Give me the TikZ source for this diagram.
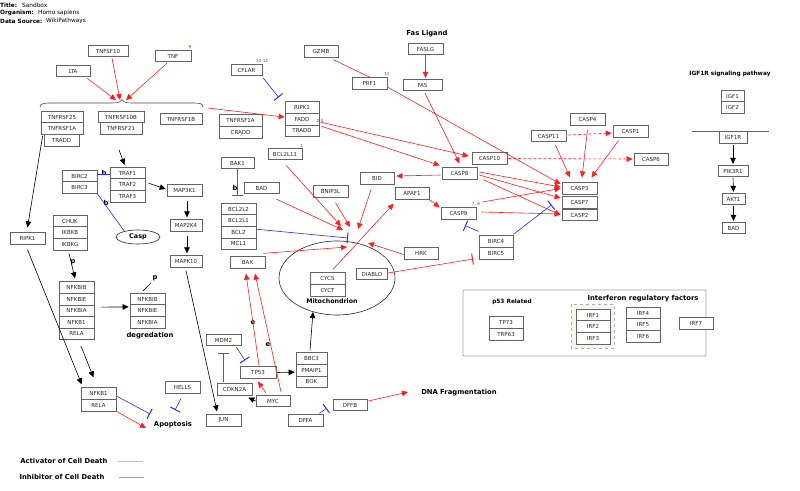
\documentclass[tikz,border=0pt]{standalone}
\usepackage{fontspec}
\setmainfont{DejaVu Sans}
\usetikzlibrary{arrows.meta,shapes.geometric,calc}
\definecolor{myred}{RGB}{255,30,30}
\definecolor{myblue}{RGB}{40,40,255}
\definecolor{numblue}{RGB}{70,70,200}
\definecolor{legred}{RGB}{255,165,165}
\definecolor{legblue}{RGB}{110,170,255}
\definecolor{boxgray}{RGB}{100,100,100}
\newcommand\gfont{\fontsize{5.5}{6}\selectfont}
\newcommand\lfont{\fontsize{6.8}{8}\selectfont\bfseries}
\newcommand\sfont{\fontsize{5.8}{7}\selectfont\bfseries}
\newcommand\hfont{\fontsize{5.8}{7}\selectfont}
\begin{document}
\begin{tikzpicture}[x=1pt,y=-1pt,
 gene/.style={draw=boxgray, line width=0.7pt, fill=white, inner sep=0pt, minimum height=11.6pt, text=black!85, font=\gfont},
 lbl/.style={font=\lfont, inner sep=0pt},
 slbl/.style={font=\sfont, inner sep=0pt},
 hdr/.style={font=\hfont, inner sep=0pt, anchor=west},
 hdrb/.style={font=\hfont\bfseries, inner sep=0pt, anchor=west},
 num/.style={font=\fontsize{4.2}{5}\selectfont, text=numblue, inner sep=0pt},
 act/.style={color=myred, line width=0.6pt, -{Triangle[length=6pt,width=5.5pt]}},
 actd/.style={act, dash pattern=on 3pt off 2pt},
 inh/.style={color=myred, line width=0.6pt, -{Bar[width=11pt,line width=1pt]}},
 binh/.style={color=myblue, line width=0.6pt, -{Bar[width=11pt,line width=1pt]}},
 bline/.style={color=myblue, line width=0.6pt},
 rline/.style={color=myred, line width=0.6pt},
 kact/.style={color=black, line width=0.6pt, -{Triangle[length=6pt,width=5.5pt]}},
 kline/.style={color=black, line width=0.6pt}]
\useasboundingbox (0,0) rectangle (800,490);
\fill[white] (0,0) rectangle (800,490);

% header
\node[hdrb] (h1) at (0,5) {Title:};
\node[hdr] (h1v) at (22,5) {Sandbox};
\node[hdrb] (h2) at (0,13) {Organism:};
\node[hdr] (h2v) at (38,13) {Homo sapiens};
\node[hdrb] (h3) at (0,21) {Data Source:};
\node[hdr] (h3v) at (46,21) {WikiPathways};

% groups
\draw[draw=black!35, line width=0.8pt, rounded corners=1pt] (463,290) rectangle (706,356);
\draw[draw=black!30, dashed, line width=0.5pt, fill={rgb,255:red,245;green,245;blue,236}] (571,304) rectangle (614,348);
\node[ellipse, draw=black!85, line width=0.6pt, minimum width=116pt, minimum height=74pt, inner sep=0pt] (mito) at (337,278) {};
\node[ellipse, draw=black!85, line width=0.6pt, minimum width=44pt, minimum height=14pt, inner sep=0pt, font=\fontsize{6.5}{7}\selectfont\bfseries] (Casp) at (138,237) {Casp};

% brace
\draw[black!70, line width=0.6pt] (40,107) .. controls (40,103.5) and (44,103) .. (52,103) -- (112,103) .. controls (118,103) and (121,102) .. (122,99.5) .. controls (123,102) and (126,103) .. (132,103) -- (192,103) .. controls (200,103) and (203,103.5) .. (203,107);
\draw[black!60, line width=0.6pt] (692,131) -- (769,131);

% genes
\node[gene, minimum width=40pt] (TNFSF10) at (108,51) {TNFSF10};
\node[gene, minimum width=36pt] (TNF) at (173,56) {TNF};
\node[gene, minimum width=34pt] (LTA) at (73,71) {LTA};
\node[gene, minimum width=42pt] (TNFRSF25) at (62,117) {TNFRSF25};
\node[gene, minimum width=42pt] (TNFRSF1A) at (62,128.6) {TNFRSF1A};
\node[gene, minimum width=35pt] (TRADDa) at (61.5,140.2) {TRADD};
\node[gene, minimum width=46pt] (TNFRSF10B) at (121,117) {TNFRSF10B};
\node[gene, minimum width=42pt] (TNFRSF21) at (121,128.6) {TNFRSF21};
\node[gene, minimum width=42pt] (TNFRSF1B) at (181,119) {TNFRSF1B};
\node[gene, minimum width=35pt] (BIRC2) at (79.5,176) {BIRC2};
\node[gene, minimum width=35pt] (BIRC3) at (79.5,187.6) {BIRC3};
\node[gene, minimum width=35pt] (TRAF1) at (127.5,173) {TRAF1};
\node[gene, minimum width=35pt] (TRAF2) at (127.5,184.6) {TRAF2};
\node[gene, minimum width=35pt] (TRAF3) at (127.5,196.2) {TRAF3};
\node[gene, minimum width=35pt] (MAP3K1) at (184.5,190.5) {MAP3K1};
\node[gene, minimum width=32pt] (MAP2K4) at (186,225.5) {MAP2K4};
\node[gene, minimum width=32pt] (MAPK10) at (186,261.5) {MAPK10};
\node[gene, minimum width=35pt] (RIPK1a) at (27.5,238.5) {RIPK1};
\node[gene, minimum width=34pt] (CHUK) at (70,221) {CHUK};
\node[gene, minimum width=34pt] (IKBKB) at (70,232.6) {IKBKB};
\node[gene, minimum width=34pt] (IKBKG) at (70,244.2) {IKBKG};
\node[gene, minimum width=35pt] (NFKBIBa) at (76.5,287.5) {NFKBIB};
\node[gene, minimum width=35pt] (NFKBIEa) at (76.5,299.1) {NFKBIE};
\node[gene, minimum width=35pt] (NFKBIAa) at (76.5,310.7) {NFKBIA};
\node[gene, minimum width=35pt] (NFKB1a) at (76.5,322.3) {NFKB1};
\node[gene, minimum width=35pt] (RELAa) at (76.5,333.9) {RELA};
\node[gene, minimum width=35pt] (NFKBIBb) at (147.5,299) {NFKBIB};
\node[gene, minimum width=35pt] (NFKBIEb) at (147.5,310.6) {NFKBIE};
\node[gene, minimum width=35pt] (NFKBIAb) at (147.5,322.2) {NFKBIA};
\node[gene, minimum width=35pt] (NFKB1b) at (98.5,393.5) {NFKB1};
\node[gene, minimum width=35pt] (RELAb) at (98.5,405.1) {RELA};
\node[gene, minimum width=35pt] (HELLS) at (182.5,387.5) {HELLS};
\node[gene, minimum width=35pt] (MDM2) at (223.5,340) {MDM2};
\node[gene, minimum width=36pt] (TP53) at (258,372.5) {TP53};
\node[gene, minimum width=35pt] (CDKN2A) at (234.5,389.5) {CDKN2A};
\node[gene, minimum width=34pt] (MYC) at (273,401) {MYC};
\node[gene, minimum width=31pt] (BBC3) at (311.5,358.5) {BBC3};
\node[gene, minimum width=31pt] (PMAIP1) at (311.5,370.1) {PMAIP1};
\node[gene, minimum width=31pt] (BOK) at (311.5,381.7) {BOK};
\node[gene, minimum width=35pt] (JUN) at (223.5,420.5) {JUN};
\node[gene, minimum width=35pt] (DFFA) at (305.5,420.5) {DFFA};
\node[gene, minimum width=34pt] (DFFB) at (350,405) {DFFB};
\node[gene, minimum width=33pt] (BAK1) at (237.5,163) {BAK1};
\node[gene, minimum width=35pt] (BAD) at (261.5,188) {BAD};
\node[gene, minimum width=35pt] (BCL2L2) at (238.5,209) {BCL2L2};
\node[gene, minimum width=35pt] (BCL2L1) at (238.5,220.6) {BCL2L1};
\node[gene, minimum width=35pt] (BCL2) at (238.5,232.2) {BCL2};
\node[gene, minimum width=35pt] (MCL1) at (238.5,243.8) {MCL1};
\node[gene, minimum width=35pt] (BAX) at (247.5,262.5) {BAX};
\node[gene, minimum width=35pt] (CYCS) at (327.5,278.5) {CYCS};
\node[gene, minimum width=35pt] (CYCT) at (327.5,290.1) {CYCT};
\node[gene, minimum width=31pt] (DIABLO) at (372,274) {DIABLO};
\node[gene, minimum width=35pt] (BNIP3L) at (330.5,191.5) {BNIP3L};
\node[gene, minimum width=34pt] (BID) at (377,178.5) {BID};
\node[gene, minimum width=34pt] (APAF1) at (412,193.5) {APAF1};
\node[gene, minimum width=34pt] (HRK) at (421,253.5) {HRK};
\node[gene, minimum width=35pt] (CASP8) at (459.5,173.5) {CASP8};
\node[gene, minimum width=35pt] (CASP9) at (458.5,213.5) {CASP9};
\node[gene, minimum width=34pt] (BIRC4) at (496,241.5) {BIRC4};
\node[gene, minimum width=34pt] (BIRC5) at (496,253.1) {BIRC5};
\node[gene, minimum width=35pt] (CASP3) at (579.5,188.5) {CASP3};
\node[gene, minimum width=35pt] (CASP7) at (579.5,202.5) {CASP7};
\node[gene, minimum width=35pt] (CASP2) at (579.5,215) {CASP2};
\node[gene, minimum width=35pt] (CASP10) at (489.5,158.5) {CASP10};
\node[gene, minimum width=35pt] (CASP11) at (548.5,136) {CASP11};
\node[gene, minimum width=35pt] (CASP4) at (587.5,119.5) {CASP4};
\node[gene, minimum width=35pt] (CASP1) at (630.5,131.5) {CASP1};
\node[gene, minimum width=34pt] (CASP6) at (651,159.5) {CASP6};
\node[gene, minimum width=39pt] (FAS) at (422.5,85) {FAS};
\node[gene, minimum width=35pt] (FASLG) at (425.5,49) {FASLG};
\node[gene, minimum width=34pt] (RIPK1b) at (302,107.5) {RIPK1};
\node[gene, minimum width=34pt] (FADD) at (302,119.1) {FADD};
\node[gene, minimum width=34pt] (TRADDb) at (302,130.7) {TRADD};
\node[gene, minimum width=31pt] (CFLAR) at (246.5,70) {CFLAR};
\node[gene, minimum width=43pt] (TNFRSF1Ab) at (240.5,120.5) {TNFRSF1A};
\node[gene, minimum width=43pt] (CRADD) at (240.5,132.1) {CRADD};
\node[gene, minimum width=34pt] (GZMB) at (321,51.5) {GZMB};
\node[gene, minimum width=35pt] (PRF1) at (369.5,83.5) {PRF1};
\node[gene, minimum width=34pt] (BCL2L11) at (285,154) {BCL2L11};
\node[gene, minimum width=23pt] (IGF1) at (732.5,96) {IGF1};
\node[gene, minimum width=23pt] (IGF2) at (732.5,107.6) {IGF2};
\node[gene, minimum width=28pt] (IGF1R) at (733,137.5) {IGF1R};
\node[gene, minimum width=30pt] (PIK3R1) at (733,171) {PIK3R1};
\node[gene, minimum width=23pt] (AKT1) at (733.5,199) {AKT1};
\node[gene, minimum width=23pt] (BADr) at (733.5,228) {BAD};
\node[gene, minimum width=34pt] (TP73) at (506,322.5) {TP73};
\node[gene, minimum width=34pt] (TRP63) at (506,334.1) {TRP63};
\node[gene, minimum width=34pt] (IRF1) at (593,315) {IRF1};
\node[gene, minimum width=34pt] (IRF2) at (593,326.6) {IRF2};
\node[gene, minimum width=34pt] (IRF3) at (593,338.2) {IRF3};
\node[gene, minimum width=34pt] (IRF4) at (643,313) {IRF4};
\node[gene, minimum width=34pt] (IRF5) at (643,324.6) {IRF5};
\node[gene, minimum width=34pt] (IRF6) at (643,336.2) {IRF6};
\node[gene, minimum width=34pt] (IRF7) at (696,323.5) {IRF7};

% labels
\node[lbl] (fasl) at (427,34) {Fas Ligand};
\node[slbl] (igfl) at (730,74) {IGF1R signaling pathway};
\node[lbl] (degr) at (150,336) {degredation};
\node[font=\fontsize{6.3}{7}\selectfont\bfseries, inner sep=0pt] (mitol) at (332,301) {Mitochondrion};
\node[lbl] (apo) at (173,425) {Apoptosis};
\node[lbl] (dna) at (459,393) {DNA Fragmentation};
\node[slbl] (p53l) at (512,302) {p53 Related};
\node[lbl] (irfl) at (643,299) {Interferon regulatory factors};
\node[lbl] (leg1) at (64,461) {Activator of Cell Death};
\node[lbl] (leg2) at (62,477) {Inhibitor of Cell Death};
\node[lbl] (b1) at (104,173) {b};
\node[lbl] (b2) at (106,203) {b};
\node[lbl] (b3) at (235,188) {b};
\node[lbl] (p1) at (73,262) {p};
\node[lbl] (p2) at (155,278) {p};
\node[lbl] (e1) at (253,323) {e};
\node[lbl] (e2) at (268,345) {e};
\node[num] (n9) at (190,47) {9};
\node[num] (n1012) at (262,61) {10-12};
\node[num] (n12) at (387,74) {12};
\node[num] (n1) at (302,146) {1};
\node[num] (n25) at (320,121) {2-5};
\node[num] (n78) at (476,204) {7, 8};

% free ends
\coordinate (brA) at (116,100);
\coordinate (brB) at (120,100);
\coordinate (brC) at (126,100);
\coordinate (brR) at (208,108);
\coordinate (mt1) at (341,226);
\coordinate (mt2) at (343,230);
\coordinate (mt3) at (350,227);
\coordinate (mt4) at (358,229);
\coordinate (mt5) at (368,243);
\coordinate (mt6) at (347,247);
\coordinate (mt7) at (348,238);
\coordinate (mtb) at (313,312);
\coordinate (apA) at (146,428);
\coordinate (apB) at (150,414);
\coordinate (apC) at (175,410);
\coordinate (dnaA) at (408,392);
\coordinate (bakbar) at (237.5,196);
\coordinate (cdkbar) at (223,353);
\coordinate (diabar) at (473,259);

% legend
\draw[legred, line width=0.9pt] ($(leg1.east)+(10,0)$) -- ++(25,0);
\draw[legblue, line width=0.9pt] ($(leg2.east)+(14,0)$) -- ++(25,0);

% red activations
\draw[act] ($(LTA.south)+(14,1)$) -- (brA);
\draw[act] ($(TNFSF10.south)+(4,1)$) -- (brB);
\draw[act] ($(TNF.south)+(-6,1)$) -- (brC);
\draw[act] (brR) -- ($(FADD.west)+(0,-2)$);
\draw[act] (FASLG.south) -- ($(FAS.north)+(3,-1)$);
\draw[act] ($(FAS.south)+(2.5,2)$) -- ($(CASP8.north)+(0,-4)$);
\draw[act] ($(FADD.east)+(1,3)$) -- ($(CASP10.west)+(-3,-2.5)$);
\draw[act] ($(TRADDb.east)+(2,-4.5)$) -- ($(CASP8.north west)+(-2,-2)$);
\draw[act] ($(PRF1.east)+(0,3.5)$) -- ($(CASP3.west)+(-1,-4.5)$);
\draw[act] ($(CASP8.west)+(-1,1.5)$) -- ($(BID.east)+(2,-2.5)$);
\draw[act] ($(CASP8.east)+(2,-1.5)$) -- ($(CASP3.west)+(-1,-1.5)$);
\draw[act] ($(CASP8.east)+(2,1.5)$) -- ($(CASP7.west)+(-1,-4.5)$);
\draw[act] ($(CASP8.south east)+(6,0)$) -- ($(CASP2.west)+(-1,0)$);
\draw[act] ($(CASP9.east)+(6,-11.5)$) -- ($(CASP3.west)+(-1,0)$);
\draw[act] ($(CASP9.east)+(5,-1.5)$) -- ($(CASP2.west)+(-1,-1)$);
\draw[act] (APAF1.south east) -- ($(CASP9.north west)+(-1,0)$);
\draw[act] ($(CASP11.south)+(7,3)$) -- ($(CASP3.north)+(-9.5,-5)$);
\draw[act] ($(CASP4.south)+(0,4)$) -- ($(CASP3.north)+(2.5,-5)$);
\draw[act] ($(CASP1.south)+(-12,3)$) -- ($(CASP3.north)+(12,-5)$);
\draw[act] ($(CYCS.north)+(5.5,-3)$) -- ($(APAF1.south west)+(-1,4)$);
\draw[act] ($(BCL2L11.south)+(1,5)$) -- (mt1);
\draw[act] ($(BAD.south east)+(-3,5)$) -- (mt2);
\draw[act] ($(BNIP3L.south)+(5,5)$) -- (mt3);
\draw[act] ($(BID.south)+(-6,5)$) -- (mt4);
\draw[act] ($(HRK.west)+(0,1)$) -- (mt5);
\draw[act] ($(BAX.north east)+(-2,-3)$) -- (mt6);
\draw[act] ($(TP53.north)+(1,-1)$) -- ($(BAX.south)+(-1.5,5)$);
\draw[act] ($(MYC.north)+(8,-3)$) -- ($(BAX.south)+(7.5,5)$);
\draw[act] ($(MYC.north)+(-7,-2)$) -- ($(TP53.south)+(0,3)$);
\draw[act] (RELAb.south east) -- (apA);
\draw[act] ($(DFFB.east)+(1,-4)$) -- (dnaA);
\draw[actd] ($(CASP10.east)+(1,0)$) -- ($(CASP6.west)+(-1,-0.5)$);
\draw[actd] ($(CASP11.east)+(2,-1)$) -- ($(CASP1.west)+(-1,1.5)$);
\draw[rline] ($(GZMB.south east)+(-5,2)$) -- ($(PRF1.north)+(0.5,0)$);

% red inhibitions
\draw[inh] (BAK1.south) -- (bakbar);
\draw[inh] ($(CDKN2A.north)+(-11.5,-1)$) -- (cdkbar);
\draw[inh] ($(DIABLO.east)+(0,-1)$) -- (diabar);

% blue inhibitions
\draw[binh] ($(CFLAR.south east)+(1,2)$) -- ($(RIPK1b.north west)+(-6,-4)$);
\draw[binh] ($(BCL2.east)+(0,-3)$) -- (mt7);
\draw[binh] ($(NFKB1b.east)+(1,3)$) -- (apB);
\draw[binh] ($(HELLS.south)+(-1.5,5)$) -- (apC);
\draw[binh] ($(MDM2.south east)+(-5,1)$) -- ($(TP53.north)+(-13,-6)$);
\draw[binh] ($(DFFA.north east)+(-4,-1)$) -- ($(DFFB.south west)+(-6,-3)$);
\draw[binh] ($(BIRC4.north east)+(0,-1)$) -- ($(CASP2.north west)+(-10,-4)$);
\draw[binh] ($(BIRC4.north west)+(0,-4)$) -- ($(CASP9.south)+(6.5,6)$);
\draw[bline] ($(BIRC2.east)+(0,-2)$) -- ($(TRAF1.west)+(0,1)$);
\draw[bline] (BIRC3.south east) -- (Casp.157);

% black
\draw[kact] ($(TNFRSF21.south)+(-2,15)$) -- ($(TRAF1.north)+(-3,-2)$);
\draw[kact] ($(TRAF2.east)+(3,-1.5)$) -- ($(MAP3K1.west)+(-1,-1.5)$);
\draw[kact] ($(MAP3K1.south)+(2.5,4)$) -- ($(MAP2K4.north)+(1,-2)$);
\draw[kact] ($(MAP2K4.south)+(1,4)$) -- ($(MAPK10.north)+(1,-2)$);
\draw[kact] ($(MAPK10.south)+(0,3)$) -- ($(JUN.north)+(-6.5,-3)$);
\draw[kact] ($(TNFRSF1A.south west)+(2,1)$) -- ($(RIPK1a.north)+(0,-5)$);
\draw[kact] ($(RIPK1a.south)+(0,5)$) -- ($(NFKB1b.north west)+(1,-3)$);
\draw[kact] ($(RELAa.south)+(4.5,6)$) -- ($(NFKB1b.north)+(-5,-10)$);
\draw[kact] ($(IKBKG.south)+(-1,3)$) -- ($(NFKBIBa.north)+(-1.5,-3)$);
\draw[kact] ($(NFKBIEa.east)+(7,8)$) -- ($(NFKBIEb.west)+(-1,-3.7)$);
\draw[kline] ($(NFKBIBb.north)+(-4.5,-2)$) -- ($(p2)+(-4,5)$);
\draw[kact] ($(TP53.east)+(1,0)$) -- ($(PMAIP1.west)+(-1,2)$);
\draw[kact] ($(BBC3.north)+(-1.5,-2)$) -- (mtb);
\draw[kact] (MYC.west) -- ($(CDKN2A.south east)+(-4,2)$);
\draw[kact] ($(IGF1R.south)+(0,1)$) -- ($(PIK3R1.north)+(0,-1)$);
\draw[kact] ($(PIK3R1.south)+(0,1)$) -- ($(AKT1.north)+(0,-1)$);
\draw[kact] ($(AKT1.south)+(0,1)$) -- ($(BADr.north)+(0,-1)$);
\end{tikzpicture}
\end{document}
